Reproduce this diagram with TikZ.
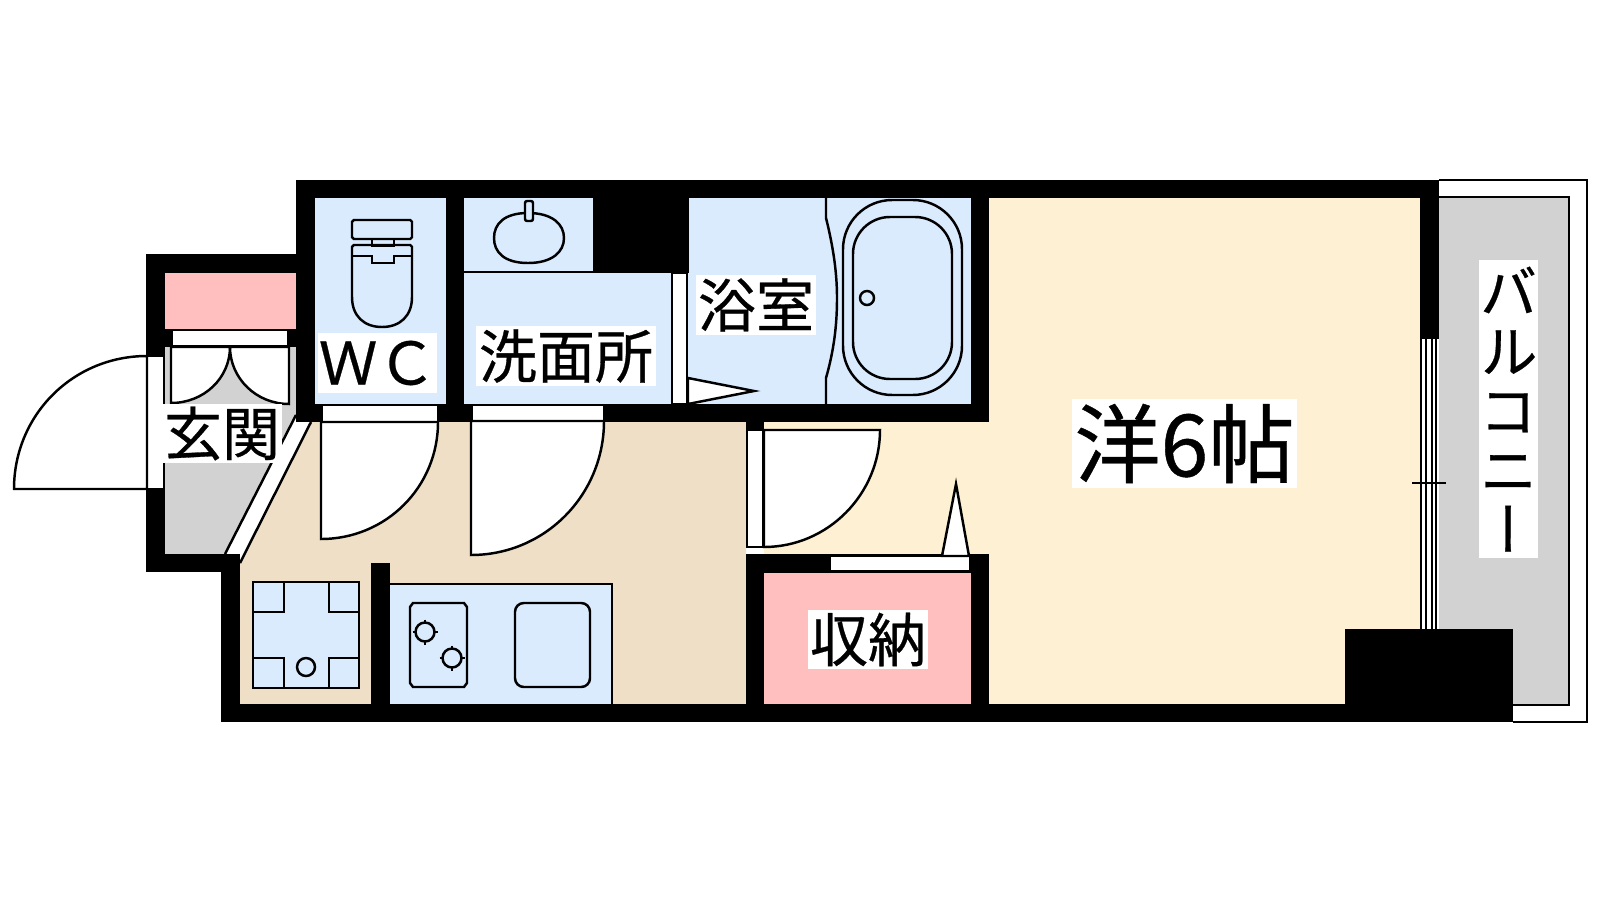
\documentclass[tikz,border=0pt]{standalone}
\usepackage{fontspec}
\setmainfont[FakeBold=0.5]{Noto Sans CJK JP}
\newfontfamily\cjkvert[RawFeature=+vert,FakeBold=0.5]{Noto Sans CJK JP}
\definecolor{wetblue}{HTML}{DAEBFE}
\definecolor{floorbeige}{HTML}{EEDFC6}
\definecolor{roomyellow}{HTML}{FDF0D3}
\definecolor{closetpink}{HTML}{FFBFBF}
\definecolor{outgray}{HTML}{D2D2D2}
\tikzset{
  wall/.style={fill=black},
  leaf/.style={draw=black,fill=white,line width=0.7pt},
  fixture/.style={draw=black,line width=0.7pt},
  roomlabel/.style={fill=white,inner sep=0pt,text=black,font=\fontsize{16.5}{16.5}\selectfont}
}
\begin{document}
\begin{tikzpicture}[x=0.01cm,y=-0.01cm]
  \useasboundingbox (0,0) rectangle (1600,900);
  % Floors
  \fill[roomyellow] (764,422) rectangle (989,554);
  \fill[roomyellow] (989,198) rectangle (1420,704);
  \fill[floorbeige] (311,422) -- (746,422) -- (746,704) -- (240,704) -- (240,563) -- cycle;
  \fill[wetblue] (315,198) rectangle (446,404);
  \fill[wetblue] (464,198) rectangle (594,272);
  \fill[wetblue] (464,272) rectangle (672,404);
  \fill[wetblue] (687,198) rectangle (971,404);
  \fill[closetpink] (165,273) rectangle (296,329);
  \fill[closetpink] (764,573) rectangle (971,704);
  \fill[outgray] (165,347) -- (296,347) -- (296,415) -- (225,554) -- (165,554) -- cycle;
  \fill[outgray] (1439,197) rectangle (1569,705);
  % Balcony rail
  \draw[fixture] (1439,180) -- (1587,180) -- (1587,722) -- (1513,722);
  \draw[fixture] (1439,197) -- (1569,197) -- (1569,705) -- (1513,705);
  % Walls
  \fill[wall] (296,180) rectangle (1439,198);
  \fill[wall] (296,180) rectangle (315,422);
  \fill[wall] (446,198) rectangle (464,422);
  \fill[wall] (296,404) rectangle (989,422);
  \fill[wall] (971,198) rectangle (989,422);
  \fill[wall] (594,198) rectangle (689,273);
  \fill[wall] (146,254) rectangle (296,273);
  \fill[wall] (146,254) rectangle (165,356);
  \fill[wall] (146,489) rectangle (165,572);
  \fill[wall] (146,554) rectangle (240,572);
  \fill[wall] (165,329) rectangle (172,347);
  \fill[wall] (288,329) rectangle (296,347);
  \fill[wall] (221,554) rectangle (240,722);
  \fill[wall] (221,704) rectangle (1513,722);
  \fill[wall] (371,563) rectangle (390,704);
  \fill[wall] (746,554) rectangle (764,704);
  \fill[wall] (746,422) rectangle (764,430);
  \fill[wall] (746,554) rectangle (989,573);
  \fill[wall] (971,554) rectangle (989,704);
  \fill[wall] (1420,180) rectangle (1439,339);
  \fill[wall] (1345,629) rectangle (1513,722);
  % Entrance step
  \draw[fixture] (296,415) -- (225,554);
  \draw[fixture] (311,422) -- (240,563);
  % Entrance door
  \draw[leaf] (147,356) rectangle (164,489);
  \draw[leaf] (147,356) .. controls (73,356) and (14,415) .. (14,489) -- (147,489) -- cycle;
  % Shoe closet
  \draw[leaf] (172,330) rectangle (288,346);
  \draw[leaf] (171,347) -- (230,347) .. controls (230,378) and (204,403) .. (171,403) -- cycle;
  \draw[leaf] (289,347) -- (230,347) .. controls (230,378) and (256,404) .. (289,404) -- cycle;
  % Inner doors
  \draw[leaf] (322,405) rectangle (438,422);
  \draw[leaf] (321,422) -- (438,422) .. controls (438,487) and (386,539) .. (321,539) -- cycle;
  \draw[leaf] (472,405) rectangle (604,421);
  \draw[leaf] (471,421) -- (604,421) .. controls (604,495) and (545,555) .. (471,555) -- cycle;
  \draw[leaf] (747,430) rectangle (763,547);
  \draw[leaf] (764,430) -- (880,430) .. controls (880,494) and (828,547) .. (764,547) -- cycle;
  \draw[leaf] (672,273) rectangle (687,404);
  \draw[leaf] (688,378) -- (754,391) -- (688,404) -- cycle;
  \draw[leaf] (830,556) rectangle (970,571);
  \draw[leaf] (942,556) -- (956,484) -- (969,556) -- cycle;
  % Balcony window
  \fill[white] (1421,339) rectangle (1436,629);
  \draw[fixture] (1421,339) -- (1421,629);
  \draw[fixture] (1426,339) -- (1426,629);
  \draw[fixture] (1432,339) -- (1432,629);
  \draw[fixture] (1436,339) -- (1436,629);
  \draw[fixture] (1412,483) -- (1446,483);
  \draw[fixture] (1426,475) -- (1426,483);
  \draw[fixture] (1432,483) -- (1432,493);
  % Toilet
  \draw[fixture,rounded corners=0.5pt] (352,220) rectangle (412,239);
  \draw[fixture] (372,239) rectangle (394,246);
  \draw[fixture,rounded corners=0.5pt] (352,297) -- (352,245) -- (412,245) -- (412,297);
  \draw[fixture] (352,297) .. controls (352,316) and (364,327) .. (382,327) .. controls (400,327) and (412,316) .. (412,297);
  \draw[fixture] (352,256) -- (372,256) -- (372,263) -- (394,263) -- (394,256) -- (412,256);
  % Wash basin
  \draw[fixture] (464,272) -- (594,272);
  \draw[fixture] (594,198) -- (594,272);
  \draw[fixture] (528,213) .. controls (552,213) and (564,224) .. (564,238) .. controls (564,252) and (552,263) .. (528,263) .. controls (504,263) and (494,252) .. (494,238) .. controls (494,224) and (504,213) .. (528,213) -- cycle;
  \draw[fixture,fill=wetblue,rounded corners=0.6pt] (525,201) rectangle (533,221);
  % Bath
  \draw[fixture] (826,198) -- (826,218) .. controls (834,250) and (837,275) .. (837,298) .. controls (837,325) and (834,350) .. (826,378) -- (826,404);
  \draw[fixture,rounded corners=14pt] (843,200) rectangle (962,395);
  \draw[fixture,rounded corners=10.5pt] (853,217) rectangle (952,379);
  \draw[fixture] (867,298) circle (7);
  % Laundry pan
  \fill[wetblue] (253,582) rectangle (359,688);
  \draw[fixture] (253,582) rectangle (359,688);
  \draw[fixture] (253,612) -- (284,612) -- (284,582);
  \draw[fixture] (329,582) -- (329,612) -- (359,612);
  \draw[fixture] (253,658) -- (284,658) -- (284,688);
  \draw[fixture] (329,688) -- (329,658) -- (359,658);
  \draw[fixture] (306,667) circle (9);
  % Kitchen counter
  \fill[wetblue] (390,584) rectangle (612,704);
  \draw[fixture] (390,584) -- (612,584) -- (612,704);
  \draw[fixture] (413,603) -- (464,603) -- (467,607) -- (467,683) -- (464,687) -- (413,687) -- (410,683) -- (410,607) -- cycle;
  \draw[fixture,rounded corners=2.5pt] (515,603) rectangle (590,687);
  \foreach \cx/\cy in {425/632,452/658} {
    \draw[fixture] (\cx,\cy) circle (9.5);
    \draw[fixture] (\cx-12.5,\cy) -- (\cx-8,\cy);
    \draw[fixture] (\cx+8,\cy) -- (\cx+12.5,\cy);
    \draw[fixture] (\cx,\cy-12.5) -- (\cx,\cy-8);
    \draw[fixture] (\cx,\cy+8) -- (\cx,\cy+12.5);
  }
  % Labels
  \node[roomlabel,minimum width=120*0.01cm,minimum height=59*0.01cm] (entrylabel) at (222,433.5) {玄関};
  \node[roomlabel,minimum width=119*0.01cm,minimum height=60*0.01cm,font=\fontsize{16.7}{16.7}\selectfont] (wclabel) at (377.5,363) {ＷＣ};
  \node[roomlabel,minimum width=180*0.01cm,minimum height=60*0.01cm] (washlabel) at (566,356) {洗面所};
  \node[roomlabel,minimum width=120*0.01cm,minimum height=60*0.01cm] (bathlabel) at (756,305) {浴室};
  \node[roomlabel,minimum width=120*0.01cm,minimum height=59*0.01cm] (closetlabel) at (868,639.5) {収納};
  \node[roomlabel,minimum width=225*0.01cm,minimum height=89*0.01cm,font=\fontsize{24.5}{24.5}\selectfont] (roomlabel) at (1184.5,443.5) {洋6帖};
  \node[roomlabel,minimum width=59*0.01cm,minimum height=298*0.01cm,align=center,font=\cjkvert\fontsize{16.5}{16.9}\selectfont] (balconylabel) at (1508.5,409) {バ\\ル\\コ\\ニ\\ー};
\end{tikzpicture}
\end{document}
